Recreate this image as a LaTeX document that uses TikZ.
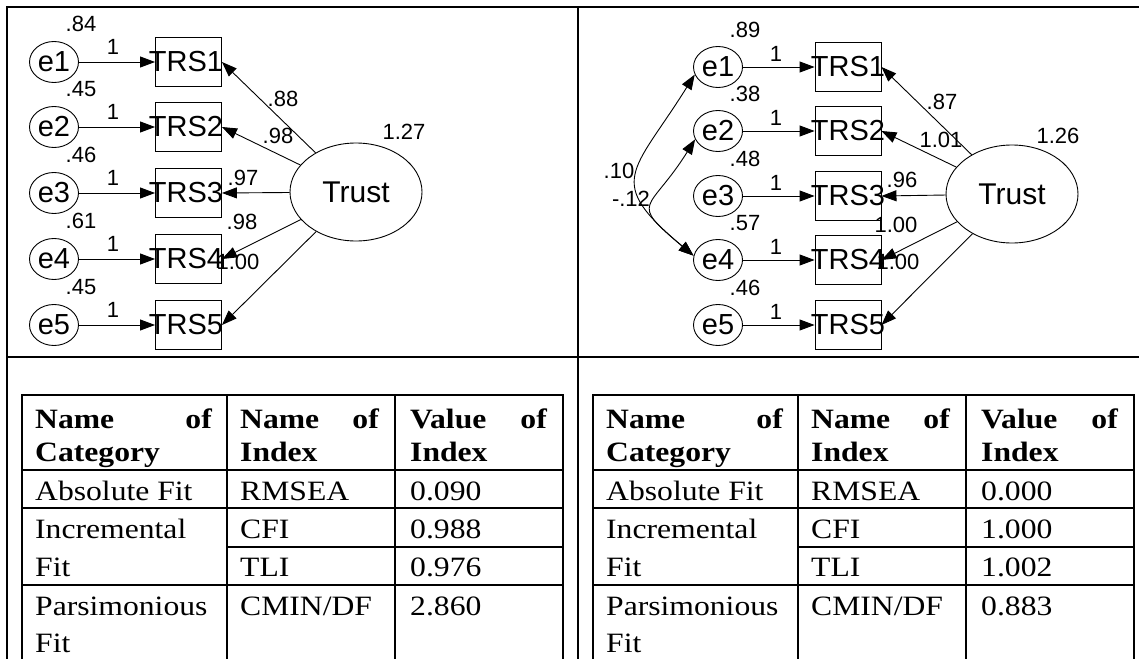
\documentclass[tikz,border=0pt]{standalone}
\usepackage{fontspec}
\usetikzlibrary{arrows.meta,shapes.geometric}
\newfontfamily\semfont{Liberation Sans}
\newfontfamily\tabfont{Liberation Serif}[FakeStretch=1.13]

% fit-index table: #1 name prefix, #2 horizontal shift, #3-#6 index values
\newcommand\fittable[6]{%
  \begin{scope}[xshift=#2]
    \draw[grid] (22,395) -- (563,395);
    \draw[grid] (22,470) -- (563,470);
    \draw[grid] (22,508) -- (563,508);
    \draw[grid] (227,547) -- (563,547);
    \draw[grid] (22,585) -- (563,585);
    \foreach \cx in {22,227,395,563} \draw[grid] (\cx,395) -- (\cx,660);
    \node[head] (#1-h1a) at (35,428) {Name};
    \node[head,anchor=base east] (#1-h1b) at (212,428) {of};
    \node[head] (#1-h1c) at (35,461) {Category};
    \node[head] (#1-h2a) at (240,428) {Name};
    \node[head,anchor=base east] (#1-h2b) at (379,428) {of};
    \node[head] (#1-h2c) at (240,461) {Index};
    \node[head] (#1-h3a) at (410,428) {Value};
    \node[head,anchor=base east] (#1-h3b) at (547,428) {of};
    \node[head] (#1-h3c) at (410,461) {Index};
    \node[cell] (#1-abs) at (35,500) {Absolute Fit};
    \node[cell] (#1-rmsea) at (240,500) {RMSEA};
    \node[cell] (#1-vrmsea) at (410,500) {#3};
    \node[cell] (#1-inc) at (35,538) {Incremental};
    \node[cell] (#1-incb) at (35,576) {Fit};
    \node[cell] (#1-cfi) at (240,538) {CFI};
    \node[cell] (#1-vcfi) at (410,538) {#4};
    \node[cell] (#1-tli) at (240,576) {TLI};
    \node[cell] (#1-vtli) at (410,576) {#5};
    \node[cell] (#1-par) at (35,615) {Parsimonious};
    \node[cell] (#1-parb) at (35,652) {Fit};
    \node[cell] (#1-cmin) at (240,615) {CMIN/DF};
    \node[cell] (#1-vcmin) at (410,615) {#6};
  \end{scope}}

\begin{document}
\begin{tikzpicture}[x=1pt,y=-1pt,
  frame/.style={line width=2.4pt,line cap=rect},
  grid/.style={line width=1.9pt,line cap=rect},
  link/.style={line width=0.9pt},
  tip/.tip={Triangle[length=15pt,width=11pt]},
  arr/.style={link,-tip},
  cov/.style={link,tip-tip},
  errnode/.style={ellipse,draw,line width=0.9pt,minimum width=49pt,minimum height=41pt,
    inner sep=0pt,font=\semfont\fontsize{29}{34}\selectfont},
  obsnode/.style={rectangle,draw,line width=0.9pt,minimum width=66pt,minimum height=49pt,
    inner sep=0pt,font=\semfont\fontsize{29}{34}\selectfont},
  latnode/.style={ellipse,draw,line width=0.9pt,minimum width=132pt,minimum height=98pt,
    inner sep=0pt,font=\semfont\fontsize{30}{34}\selectfont},
  est/.style={inner sep=0pt,font=\semfont\fontsize{22}{26}\selectfont},
  cell/.style={inner sep=0pt,anchor=base west,font=\tabfont\fontsize{28}{34}\selectfont},
  head/.style={cell,font=\tabfont\bfseries\fontsize{28}{34}\selectfont}]
\useasboundingbox (0,0) rectangle (1139,658);

% outer frame and panel rules
\draw[frame] (7,658) -- (7,7) -- (1139,7);
\draw[frame] (578,7) -- (578,658);
\draw[frame] (7,357) -- (1139,357);

% ---- model without correlated errors ----
\foreach \i/\y/\v in {1/62/.84,2/127/.45,3/193/.46,4/259/.61,5/325/.45}{
  \node[errnode] (le\i) at (54,\y) {e\i};
  \node[obsnode] (lt\i) at (188.5,\y) {\makebox[0pt]{TRS\i\kern5pt}};
  \draw[arr] (le\i) -- (lt\i);
  \node[est] (lv\i) at (81,\y-38) {\v};
  \node[est] (lw\i) at (113,\y-15) {1};
}
\node[latnode] (ltr) at (356,192) {Trust};
\node[est] (ltrv) at (404,132) {1.27};
\foreach \i in {1,...,5} \draw[arr] (ltr) -- (lt\i.east);
\node[est] (ll1) at (283,99) {.88};
\node[est] (ll2) at (278,136) {.98};
\node[est] (ll3) at (243,178) {.97};
\node[est] (ll4) at (242,222) {.98};
\node[est] (ll5) at (238,262) {1.00};

% ---- model with correlated errors ----
\foreach \i/\y/\v in {1/67/.89,2/131/.38,3/196/.48,4/260/.57,5/325/.46}{
  \node[errnode] (re\i) at (718,\y) {e\i};
  \node[obsnode] (rt\i) at (848,\y) {\makebox[0pt]{TRS\i}};
  \draw[arr] (re\i) -- (rt\i);
  \node[est] (rv\i) at (745,\y-37) {\v};
  \node[est] (rw\i) at (776,\y-13) {1};
}
\node[latnode] (rtr) at (1012,194) {Trust};
\node[est] (rtrv) at (1058,136) {1.26};
\foreach \i in {1,...,5} \draw[arr] (rtr) -- (rt\i.east);
\node[est] (rl1) at (942,102) {.87};
\node[est] (rl2) at (941,140) {1.01};
\node[est] (rl3) at (902,180) {.96};
\node[est] (rl4) at (896,225) {1.00};
\node[est] (rl5) at (898,262) {1.00};

\draw[cov] (re1.198) to[out=238,in=140,looseness=1.65] (re4.170);
\draw[cov] (re2.200) to[out=238,in=140,looseness=1.9] (re4.170);
\node[est] (rc14) at (619,171) {.10};
\node[est] (rc24) at (631,199) {-.12};

% ---- fit-index tables ----
\fittable{lt}{0pt}{0.090}{0.988}{0.976}{2.860}
\fittable{rt}{571pt}{0.000}{1.000}{1.002}{0.883}
\end{tikzpicture}
\end{document}
